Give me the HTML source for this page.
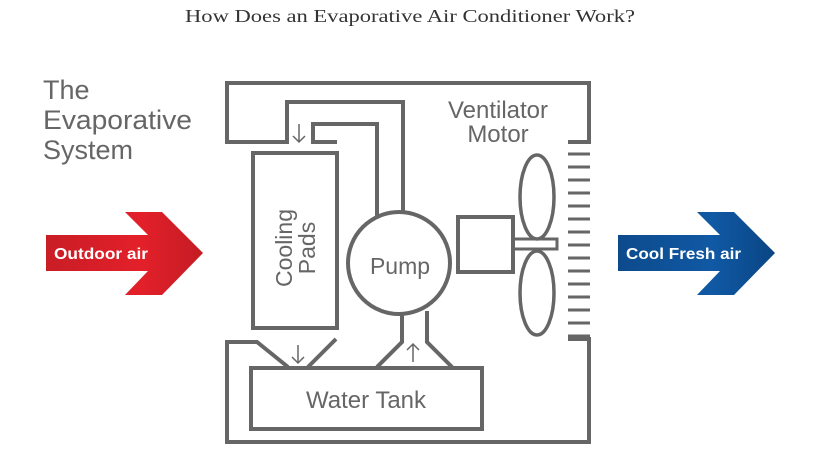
<!DOCTYPE html>
<html><head><meta charset="utf-8"><style>
html,body{margin:0;padding:0;background:#fff;}
body{width:820px;height:460px;overflow:hidden;position:relative;}
svg{position:absolute;left:0;top:0;}
</style></head><body>
<svg width="820" height="460" viewBox="0 0 820 460" xmlns="http://www.w3.org/2000/svg">
<defs>
<linearGradient id="rg" x1="0" x2="1" y1="0" y2="0"><stop offset="0" stop-color="#c91d25"/><stop offset="0.6" stop-color="#e3202a"/><stop offset="1" stop-color="#c41c24"/></linearGradient>
<linearGradient id="bg" x1="0" x2="1" y1="0" y2="0"><stop offset="0" stop-color="#0d4a8c"/><stop offset="0.6" stop-color="#1059a4"/><stop offset="1" stop-color="#0a4584"/></linearGradient>
</defs>
<text x="185" y="22" textLength="450" lengthAdjust="spacingAndGlyphs" font-family="Liberation Serif, serif" font-size="18" fill="#333">How Does an Evaporative Air Conditioner Work?</text>
<g font-family="Liberation Sans, sans-serif" font-size="27" fill="#666">
<text x="43" y="99">The</text><text x="43" y="129" textLength="149" lengthAdjust="spacingAndGlyphs">Evaporative</text><text x="43" y="159">System</text>
</g>
<polygon points="46,235 148,235 125,212 162,212 203,253 162,295 125,295 148,271 46,271" fill="url(#rg)"/>
<text x="54" y="259" textLength="94" lengthAdjust="spacingAndGlyphs" font-family="Liberation Sans, sans-serif" font-weight="bold" font-size="16" fill="#fff">Outdoor air</text>
<polygon points="618,235 720,235 697,212 734,212 775,253 734,295 697,295 720,271 618,271" fill="url(#bg)"/>
<text x="626" y="259" textLength="115" lengthAdjust="spacingAndGlyphs" font-family="Liberation Sans, sans-serif" font-weight="bold" font-size="16" fill="#fff">Cool Fresh air</text>
<g fill="none" stroke="#666" stroke-width="4">
<polyline points="568,142 589,142 589,83 227,83 227,142 287,142 287,102 403,102 403,214"/>
<polyline points="337,142 313,142 313,124 377,124 377,218"/>
<rect x="253" y="153" width="84" height="175"/>
<circle cx="399" cy="263" r="51"/>
<polyline points="402,313 402,342 377,367"/>
<polyline points="427,311 427,342 452,367"/>
<rect x="251" y="368" width="231" height="61"/>
<polyline points="568,339 589,339 589,442 227,442 227,342 257,342 288,367"/>
<line x1="336" y1="339" x2="308" y2="367"/>
<rect x="458" y="217" width="55" height="55"/>
<rect x="513" y="239" width="44" height="10" stroke-width="3"/>
<ellipse cx="537" cy="197" rx="17" ry="42" stroke-width="3.5"/>
<ellipse cx="537" cy="293" rx="17" ry="42" stroke-width="3.5"/>
</g>
<g stroke="#666" stroke-width="3">
<line x1="568" x2="590" y1="154" y2="154"/><line x1="568" x2="590" y1="167" y2="167"/><line x1="568" x2="590" y1="180" y2="180"/><line x1="568" x2="590" y1="193" y2="193"/><line x1="568" x2="590" y1="206" y2="206"/><line x1="568" x2="590" y1="219" y2="219"/><line x1="568" x2="590" y1="232" y2="232"/><line x1="568" x2="590" y1="245" y2="245"/><line x1="568" x2="590" y1="258" y2="258"/><line x1="568" x2="590" y1="271" y2="271"/><line x1="568" x2="590" y1="284" y2="284"/><line x1="568" x2="590" y1="297" y2="297"/><line x1="568" x2="590" y1="310" y2="310"/><line x1="568" x2="590" y1="323" y2="323"/><line x1="568" x2="590" y1="336" y2="336"/>
</g>
<g stroke="#666" stroke-width="1.5" fill="none">
<path d="M299,124 V142 M293,136 L299,142 L305,136"/>
<path d="M298,345 V363 M292,357 L298,363 L304,357"/>
<path d="M413,362 V344 M407,350 L413,344 L419,350"/>
</g>
<g font-family="Liberation Sans, sans-serif" fill="#666" text-anchor="middle">
<text x="498" y="118" font-size="24">Ventilator</text>
<text x="498" y="142" font-size="24">Motor</text>
<text x="400" y="274" font-size="23">Pump</text>
<text x="366" y="408" font-size="24">Water Tank</text>
<text transform="translate(295,248) rotate(-90)" font-size="23"><tspan x="0" y="-3">Cooling</tspan><tspan x="0" y="20">Pads</tspan></text>
</g>
</svg>
</body></html>
